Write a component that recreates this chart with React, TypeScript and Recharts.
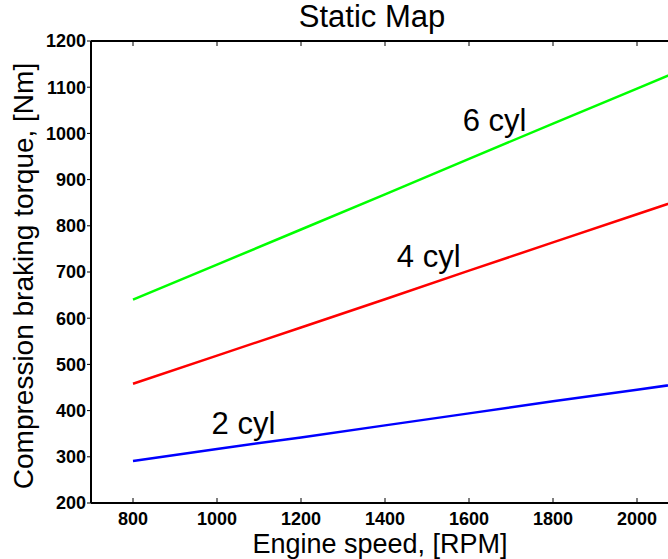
import { LineChart, Line, XAxis, YAxis, ReferenceDot, Label } from 'recharts'

const font = '"Liberation Sans", Arial, sans-serif'

// engine speed samples and braking torque per cylinder count
const rpm = [800, 1000, 1200, 1400, 1600, 1800, 2000, 2200]
const torque2cyl = [291, 317, 342, 368, 394, 420, 445, 471]
const torque4cyl = [458, 519, 580, 641, 703, 764, 825, 886]
const torque6cyl = [640, 716, 792, 868, 945, 1021, 1097, 1173]

const xTicks = [800, 1000, 1200, 1400, 1600, 1800, 2000]
const yTicks = [200, 300, 400, 500, 600, 700, 800, 900, 1000, 1100, 1200]

const notes = [
  { text: '6 cyl', rpm: 1661, torque: 1029 },
  { text: '4 cyl', rpm: 1504, torque: 735 },
  { text: '2 cyl', rpm: 1063, torque: 373 },
]

const data = rpm.map((r, i) => ({ rpm: r, c2: torque2cyl[i], c4: torque4cyl[i], c6: torque6cyl[i] }))

const tickStyle = { fontSize: 18, fontWeight: 'bold', fill: '#000', fontFamily: font }
const axisLine = { stroke: '#000', strokeWidth: 2 }
const tickLine = { stroke: '#000', strokeWidth: 1 }

// x ticks point into the plot, like the original figure
function BottomTick(props: any) {
  const { x, y, payload } = props
  return (
    <g>
      <line x1={x} x2={x} y1={y} y2={y - 5} stroke="#000" strokeWidth={1} />
      <text x={x} y={y + 22} textAnchor="middle" fontSize={18} fontWeight="bold" fontFamily={font} fill="#000">
        {payload.value}
      </text>
    </g>
  )
}

function TopTick(props: any) {
  const { x, y } = props
  return <line x1={x} x2={x} y1={y} y2={y + 5} stroke="#000" strokeWidth={1} />
}

export default function App() {
  return (
    <div style={{ position: 'fixed', left: 0, top: 0, width: 668, height: 559, overflow: 'hidden', background: '#fff' }}>
      <div
        style={{
          position: 'absolute',
          left: 272,
          top: 0,
          width: 200,
          textAlign: 'center',
          fontFamily: font,
          fontSize: 31,
          lineHeight: '34px',
          color: '#000',
        }}
      >
        Static Map
      </div>
      <LineChart width={691} height={559} data={data} margin={{ top: 40, right: 12, bottom: 0, left: 0 }}>
        <XAxis
          xAxisId="top"
          orientation="top"
          dataKey="rpm"
          type="number"
          domain={[700, 2100]}
          ticks={xTicks}
          height={1}
          tickSize={0}
          tickMargin={0}
          tick={<TopTick />}
          axisLine={axisLine}
          tickLine={false}
          allowDataOverflow
        />
        <XAxis
          dataKey="rpm"
          type="number"
          domain={[700, 2100]}
          ticks={xTicks}
          height={56}
          tickSize={0}
          tickMargin={0}
          tick={<BottomTick />}
          axisLine={axisLine}
          tickLine={false}
          allowDataOverflow
        >
          <Label
            content={() => (
              <text x={380} y={553} textAnchor="middle" fontSize={27} fontFamily={font} fill="#000">
                Engine speed, [RPM]
              </text>
            )}
          />
        </XAxis>
        <YAxis
          type="number"
          domain={[200, 1200]}
          ticks={yTicks}
          width={91}
          tickSize={4}
          tickMargin={1}
          tick={tickStyle}
          axisLine={axisLine}
          tickLine={tickLine}
          allowDataOverflow
        >
          <Label
            content={() => (
              <text
                x={33}
                y={276}
                transform="rotate(-90 33 276)"
                textAnchor="middle"
                fontSize={28}
                fontFamily={font}
                fill="#000"
              >
                Compression braking torque, [Nm]
              </text>
            )}
          />
        </YAxis>
        <Line dataKey="c6" stroke="#00ff00" strokeWidth={2.5} dot={false} isAnimationActive={false} />
        <Line dataKey="c4" stroke="#ff0000" strokeWidth={2.5} dot={false} isAnimationActive={false} />
        <Line dataKey="c2" stroke="#0000ff" strokeWidth={2.5} dot={false} isAnimationActive={false} />
        {notes.map((n) => (
          <ReferenceDot key={n.text} x={n.rpm} y={n.torque} r={0} fill="none" stroke="none">
            <Label value={n.text} position="center" fontSize={31} fontFamily={font} fill="#000" />
          </ReferenceDot>
        ))}
      </LineChart>
    </div>
  )
}
